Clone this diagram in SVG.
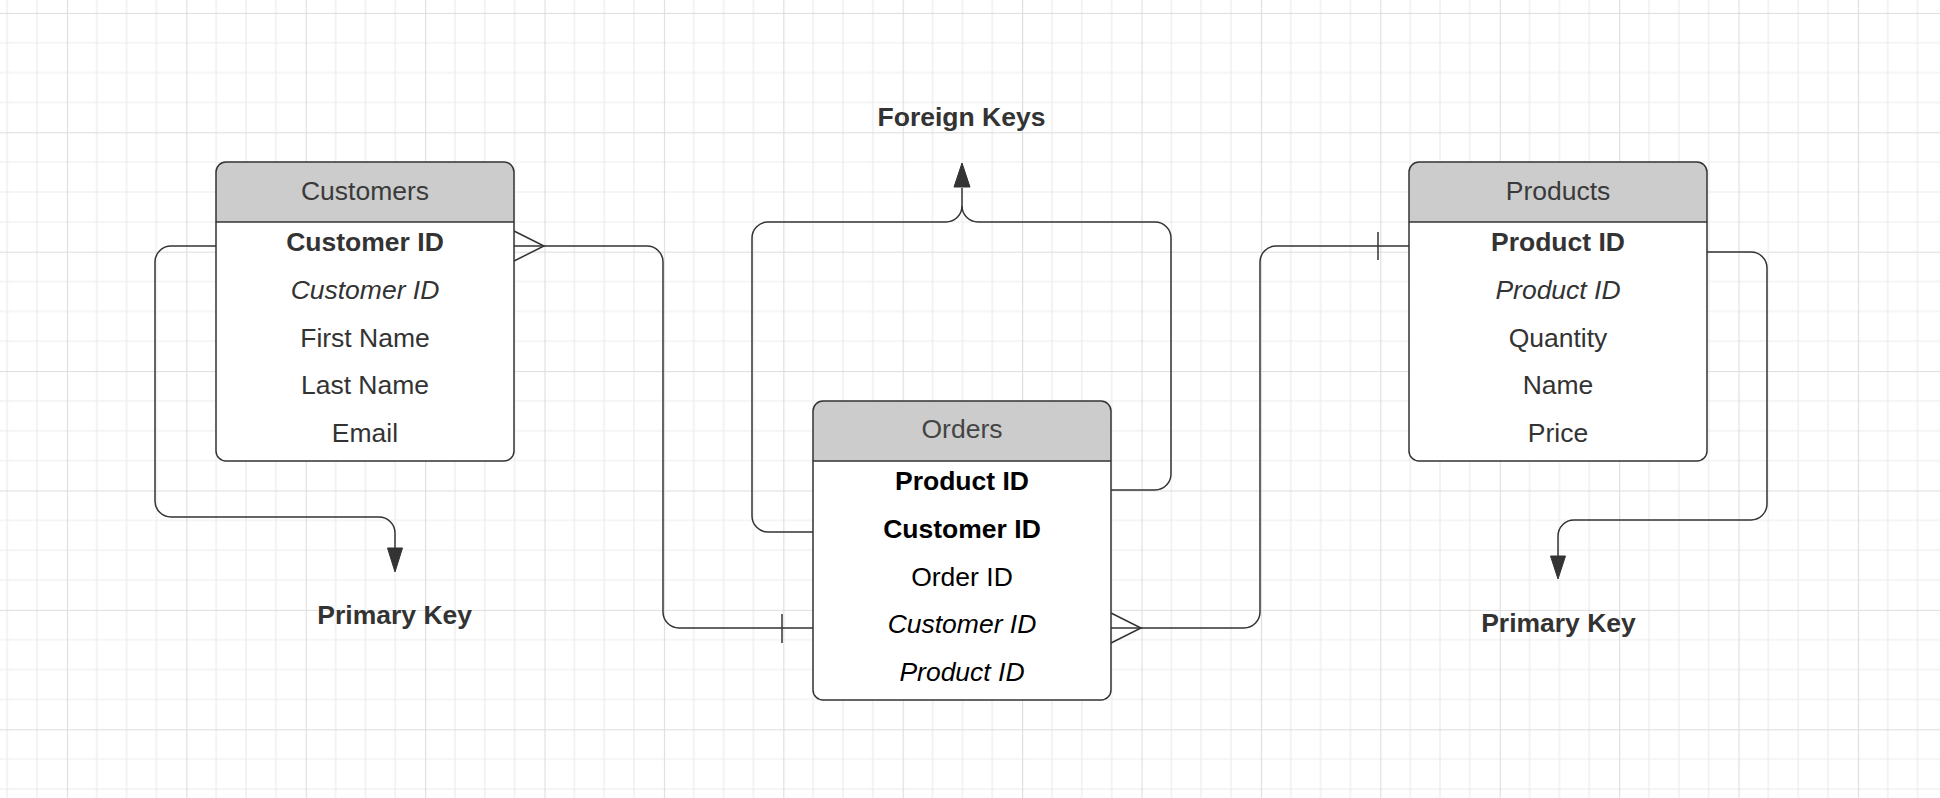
<svg xmlns="http://www.w3.org/2000/svg" width="1940" height="798" viewBox="0 0 1940 798">
<defs>
<pattern id="grid" patternUnits="userSpaceOnUse" x="66.9" y="12.9" width="119.4" height="119.4">
<path d="M29.85 0V119.4M59.7 0V119.4M89.55 0V119.4M0 29.85H119.4M0 59.7H119.4M0 89.55H119.4" stroke="#ececec" stroke-width="1.2" fill="none"/>
<path d="M0.5 0V119.4M0 0.5H119.4" stroke="#dddddd" stroke-width="1.2" fill="none"/>
</pattern>
<style>
.box{fill:none;stroke:#333;stroke-width:1.5}
.body{fill:#fff}
.hdr{fill:#cccccc}
.sep{stroke:#333;stroke-width:1.5}
.t{font-family:"Liberation Sans",Arial,sans-serif;font-size:26.5px;text-anchor:middle;fill:#333}
.b{font-weight:bold}
.i{font-style:italic}
.k{fill:#000}
.ht{fill:#3a3a3a}
.oh{fill:#444}
.conn path{fill:none;stroke:#333;stroke-width:1.5}
.conn polygon{fill:#333;stroke:#333;stroke-width:1}
</style>
</defs>
<rect width="1940" height="798" fill="#fff"/>
<rect width="1940" height="798" fill="url(#grid)"/>

<g id="connectors" class="conn">
<path d="M216 246H171A16 16 0 0 0 155 262V501A16 16 0 0 0 171 517H379A16 16 0 0 1 395 533V549"/>
<polygon points="395,572 387.5,548 402.5,548"/>
<path d="M1707 252H1751A16 16 0 0 1 1767 268V504A16 16 0 0 1 1751 520H1574A16 16 0 0 0 1558 536V557"/>
<polygon points="1558,579 1550.5,556 1565.5,556"/>
<path d="M514 246H647A16 16 0 0 1 663 262V612A16 16 0 0 0 679 628H813"/>
<path d="M514 231L544 246L514 261"/>
<path d="M782 614V643"/>
<path d="M1409 246H1276A16 16 0 0 0 1260 262V612A16 16 0 0 1 1244 628H1111"/>
<path d="M1378 232V260"/>
<path d="M1111 613L1141 628L1111 643"/>
<path d="M813 532H768A16 16 0 0 1 752 516V238A16 16 0 0 1 768 222H946A16 16 0 0 0 962 206V188"/>
<path d="M1111 490H1155A16 16 0 0 0 1171 474V238A16 16 0 0 0 1155 222H978A16 16 0 0 1 962 206"/>
<polygon points="962,163 954,187 970,187"/>
</g>

<g id="customers">
<rect class="body" x="216" y="162" width="298" height="299" rx="10"/>
<path class="hdr" d="M216 222V172A10 10 0 0 1 226 162H504A10 10 0 0 1 514 172V222Z"/>
<line class="sep" x1="216" y1="222" x2="514" y2="222"/>
<rect class="box" x="216" y="162" width="298" height="299" rx="10"/>
<text class="t ht" x="365" y="199.5">Customers</text>
<text class="t b" x="365" y="251">Customer ID</text>
<text class="t i" x="365" y="298.8">Customer ID</text>
<text class="t" x="365" y="346.6">First Name</text>
<text class="t" x="365" y="394.4">Last Name</text>
<text class="t" x="365" y="442.2">Email</text>
</g>

<g id="orders">
<rect class="body" x="813" y="401" width="298" height="299" rx="10"/>
<path class="hdr" d="M813 461V411A10 10 0 0 1 823 401H1101A10 10 0 0 1 1111 411V461Z"/>
<line class="sep" x1="813" y1="461" x2="1111" y2="461"/>
<rect class="box" x="813" y="401" width="298" height="299" rx="10"/>
<text class="t oh" x="962" y="437.5">Orders</text>
<text class="t b k" x="962" y="490">Product ID</text>
<text class="t b k" x="962" y="537.8">Customer ID</text>
<text class="t k" x="962" y="585.6">Order ID</text>
<text class="t i k" x="962" y="633.4">Customer ID</text>
<text class="t i k" x="962" y="681.2">Product ID</text>
</g>

<g id="products">
<rect class="body" x="1409" y="162" width="298" height="299" rx="10"/>
<path class="hdr" d="M1409 222V172A10 10 0 0 1 1419 162H1697A10 10 0 0 1 1707 172V222Z"/>
<line class="sep" x1="1409" y1="222" x2="1707" y2="222"/>
<rect class="box" x="1409" y="162" width="298" height="299" rx="10"/>
<text class="t ht" x="1558" y="199.5">Products</text>
<text class="t b" x="1558" y="251">Product ID</text>
<text class="t i" x="1558" y="298.8">Product ID</text>
<text class="t" x="1558" y="346.6">Quantity</text>
<text class="t" x="1558" y="394.4">Name</text>
<text class="t" x="1558" y="442.2">Price</text>
</g>

<g id="label-foreign-keys">
<text class="t b" x="961.5" y="125.7">Foreign Keys</text>
</g>
<g id="label-primary-key-1">
<text class="t b" x="394.7" y="624.3">Primary Key</text>
</g>
<g id="label-primary-key-2">
<text class="t b" x="1558.5" y="632.3">Primary Key</text>
</g>
</svg>
